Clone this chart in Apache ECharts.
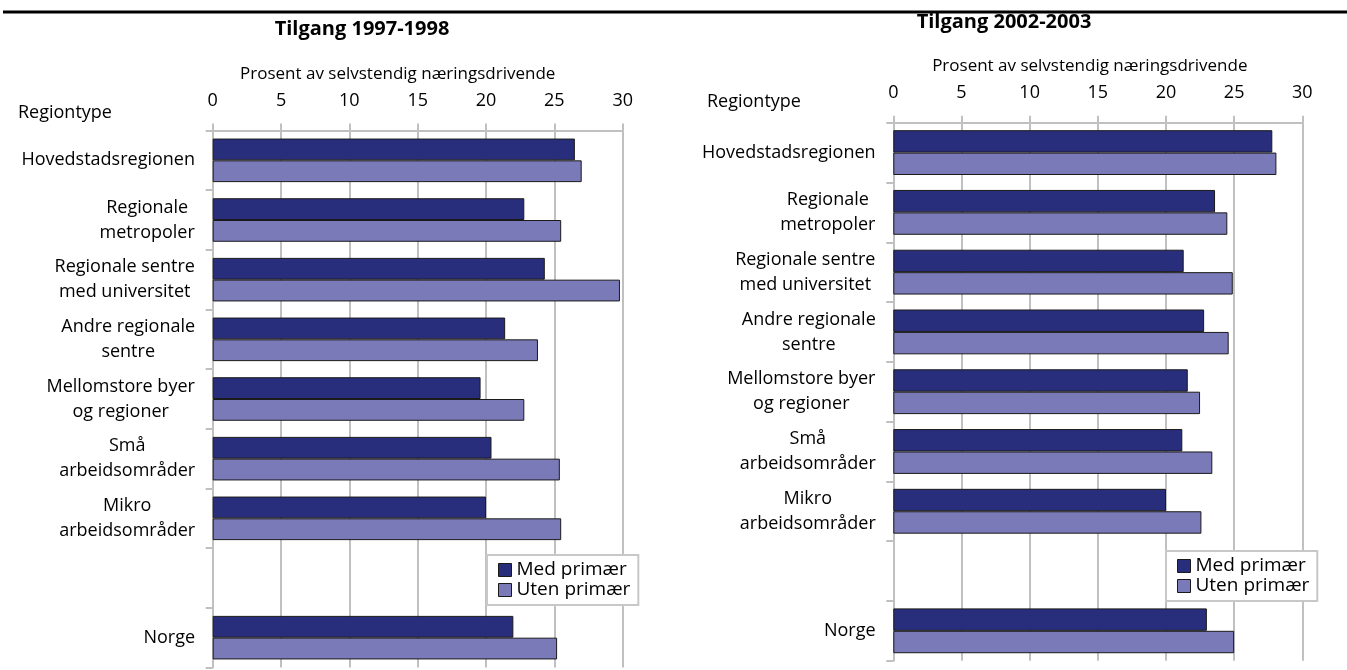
<!DOCTYPE html>
<html>
<head>
<meta charset="utf-8">
<title>Tilgang selvstendig næringsdrivende</title>
<script src="https://cdn.jsdelivr.net/npm/echarts@6/dist/echarts.min.js"></script>
<style>
  html, body { margin: 0; padding: 0; background: #ffffff; }
  #chart { width: 1347px; height: 670px; }
</style>
</head>
<body>
<div id="chart"></div>
<script>
// regiontyper (tom rad mellom Mikro og Norge)
const categories = [
  'Hovedstadsregionen',
  'Regionale\nmetropoler',
  'Regionale sentre\nmed universitet',
  'Andre regionale\nsentre',
  'Mellomstore byer\nog regioner',
  'Små\narbeidsområder',
  'Mikro\narbeidsområder',
  '',
  'Norge'
]
const seriesNames = ['Med primær', 'Uten primær']
const xTicks = [0, 5, 10, 15, 20, 25, 30]

// Tilgang 1997-1998
const med9798 = [26.5, 22.8, 24.3, 21.4, 19.6, 20.4, 20.0, null, 22.0]
const uten9798 = [27.0, 25.5, 29.8, 23.8, 22.8, 25.4, 25.5, null, 25.2]
// Tilgang 2002-2003
const med0203 = [27.8, 23.6, 21.3, 22.8, 21.6, 21.2, 20.0, null, 23.0]
const uten0203 = [28.1, 24.5, 24.9, 24.6, 22.5, 23.4, 22.6, null, 25.0]

const FONT = '"Open Sans", "Noto Sans", sans-serif'
const GRAY = '#c0c0c0'
const DARK = '#292e7c'
const LIGHT = '#7a7ab8'

// linjene i hver etikett sentreres mot hverandre, blokken høyrejusteres
const ctx = document.createElement('canvas').getContext('2d')
ctx.font = '18px ' + FONT
const rich = {}
categories.forEach((c, i) => {
  const w = Math.max.apply(null, c.split('\n').map(l => ctx.measureText(l).width))
  rich['l' + i] = { width: Math.ceil(w) + 1, align: 'center', fontSize: 18, lineHeight: 25, fontFamily: FONT, color: '#000' }
})
function catLabel (value, index) {
  if (!value) return ''
  return value.split('\n').map(l => '{l' + index + '|' + l + '}').join('\n')
}

function xAxisFor (gridIndex) {
  return {
    gridIndex: gridIndex,
    type: 'value',
    position: 'top',
    min: xTicks[0],
    max: xTicks[xTicks.length - 1],
    interval: 5,
    name: 'Prosent av selvstendig næringsdrivende',
    nameLocation: 'middle',
    nameGap: 48,
    nameTextStyle: { fontSize: 17, fontFamily: FONT, color: '#000', padding: gridIndex === 0 ? [0, 40, 0, 0] : [0, 16, 0, 0] },
    axisLine: { show: true, lineStyle: { color: GRAY, width: 2 } },
    axisTick: { show: true, length: 7, lineStyle: { color: GRAY, width: 2 } },
    splitLine: { show: true, lineStyle: { color: GRAY, width: 2 } },
    axisLabel: { margin: 21, fontSize: 18, fontFamily: FONT, color: '#000' }
  }
}

function yAxisFor (gridIndex) {
  return {
    gridIndex: gridIndex,
    type: 'category',
    inverse: true,
    data: categories,
    axisLine: { show: true, lineStyle: { color: GRAY, width: 2 } },
    axisTick: { show: true, length: 7, lineStyle: { color: GRAY, width: 2 } },
    axisLabel: { margin: 17, interval: 0, formatter: catLabel, rich: rich }
  }
}

function bar (name, idx, data, color, gap) {
  return {
    name: name,
    type: 'bar',
    xAxisIndex: idx,
    yAxisIndex: idx,
    data: data,
    barGap: '0%',
    barCategoryGap: gap,
    itemStyle: { color: color, borderColor: '#1a1a1a', borderWidth: 1 },
    emphasis: { disabled: true }
  }
}

function legendFor (left, top) {
  return {
    orient: 'vertical',
    left: left,
    top: top,
    data: seriesNames,
    icon: 'rect',
    itemWidth: 13,
    itemHeight: 13,
    itemGap: 0,
    padding: [5, 8, 5, 11],
    backgroundColor: '#ffffff',
    borderColor: '#c8c8c8',
    borderWidth: 2,
    itemStyle: { borderColor: '#1a1a1a', borderWidth: 1 },
    textStyle: { fontSize: 19, fontFamily: FONT, color: '#000', lineHeight: 20 },
    selectedMode: false
  }
}

const chart = echarts.init(document.getElementById('chart'))
chart.setOption({
  animation: false,
  backgroundColor: '#ffffff',
  title: [
    { text: 'Tilgang 1997-1998', left: 362, top: 19, textAlign: 'center', padding: 0,
      textStyle: { fontSize: 20, fontWeight: 'bold', fontFamily: FONT, color: '#000' } },
    { text: 'Tilgang 2002-2003', left: 1004, top: 12, textAlign: 'center', padding: 0,
      textStyle: { fontSize: 20, fontWeight: 'bold', fontFamily: FONT, color: '#000' } },
    { text: 'Regiontype', left: 18, top: 104, padding: 0,
      textStyle: { fontSize: 18, fontWeight: 'normal', fontFamily: FONT, color: '#000' } },
    { text: 'Regiontype', left: 707, top: 93, padding: 0,
      textStyle: { fontSize: 18, fontWeight: 'normal', fontFamily: FONT, color: '#000' } }
  ],
  graphic: [
    { type: 'line', shape: { x1: 3, y1: 12, x2: 1347, y2: 12 }, style: { stroke: '#000', lineWidth: 3 }, silent: true }
  ],
  legend: [legendFor(487, 555), legendFor(1166, 551)],
  grid: [
    { left: 212.7, top: 130.5, width: 410, height: 537 },
    { left: 893.3, top: 122.7, width: 409, height: 538 }
  ],
  xAxis: [xAxisFor(0), xAxisFor(1)],
  yAxis: [yAxisFor(0), yAxisFor(1)],
  series: [
    bar(seriesNames[0], 0, med9798, DARK, '27%'),
    bar(seriesNames[1], 0, uten9798, LIGHT, '27%'),
    bar(seriesNames[0], 1, med0203, DARK, '25%'),
    bar(seriesNames[1], 1, uten0203, LIGHT, '25%')
  ]
})
</script>
</body>
</html>
